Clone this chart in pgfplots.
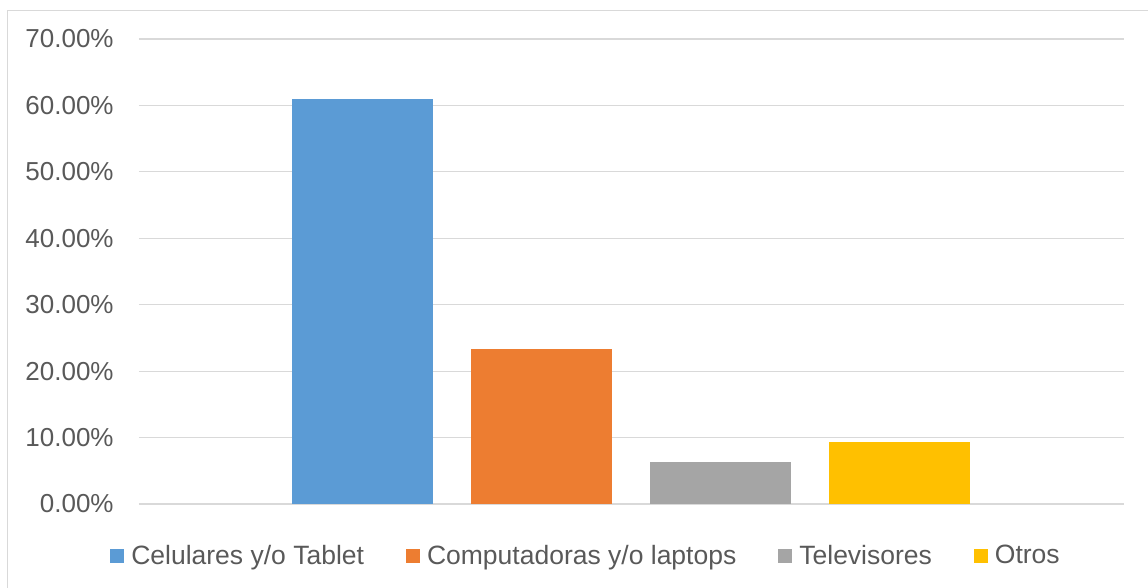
\documentclass[border=0pt]{standalone}
\usepackage{pgfplots}
\pgfplotsset{compat=1.18}
\usepackage{fontspec}
\setmainfont{Liberation Sans}
\definecolor{cblue}{HTML}{5B9BD5}
\definecolor{corange}{HTML}{ED7D31}
\definecolor{cgrey}{HTML}{A5A5A5}
\definecolor{cyellow}{HTML}{FFC000}
\definecolor{gridc}{HTML}{D9D9D9}
\definecolor{txt}{HTML}{595959}
\begin{document}
\begin{tikzpicture}
\path[use as bounding box] (-69.5pt,-42pt) rectangle (504.5pt,252pt);
\draw[gridc, line width=0.6pt] (-65.75pt,-42pt) -- (-65.75pt,246.75pt) -- (504.5pt,246.75pt);
\begin{axis}[
  at={(0pt,0pt)}, anchor=south west,
  scale only axis,
  width=492.5pt, height=232.5pt,
  xmin=-1.249, xmax=4.254,
  ymin=0, ymax=70,
  axis line style={draw=none},
  xtick=\empty,
  ytick={0,10,20,30,40,50,60,70},
  yticklabels={0.00\%,10.00\%,20.00\%,30.00\%,40.00\%,50.00\%,60.00\%,70.00\%},
  major tick length=0pt,
  ymajorgrids,
  grid style={gridc, line width=0.6pt},
  font=\fontsize{13}{15.6}\selectfont,
  yticklabel style={anchor=east, inner sep=0pt, xshift=-12.5pt, text=txt, font=\fontsize{13}{15.6}\selectfont},
  ybar, bar width=0.788, bar shift=0pt,
  legend columns=4,
  legend style={at={(0.4528,-0.1118)}, anchor=center, draw=none, fill=none, inner sep=0pt,
    font=\fontsize{13.25}{16}\selectfont, text=txt,
    nodes={inner sep=0pt},
    /tikz/every odd column/.append style={column sep=3.5pt},
    /tikz/every even column/.append style={column sep=21pt}},
  legend image code/.code={\fill[#1] (0pt,-3.5pt) rectangle (7pt,3.5pt);},
]
\addplot[fill=cblue, draw=none] coordinates {(0,61.04)};
\addplot[fill=corange, draw=none] coordinates {(1,23.33)};
\addplot[fill=cgrey, draw=none] coordinates {(2,6.29)};
\addplot[fill=cyellow, draw=none] coordinates {(3,9.30)};
\legend{Celulares y/o Tablet, Computadoras y/o laptops, Televisores, Otros}
\end{axis}
\end{tikzpicture}
\end{document}
